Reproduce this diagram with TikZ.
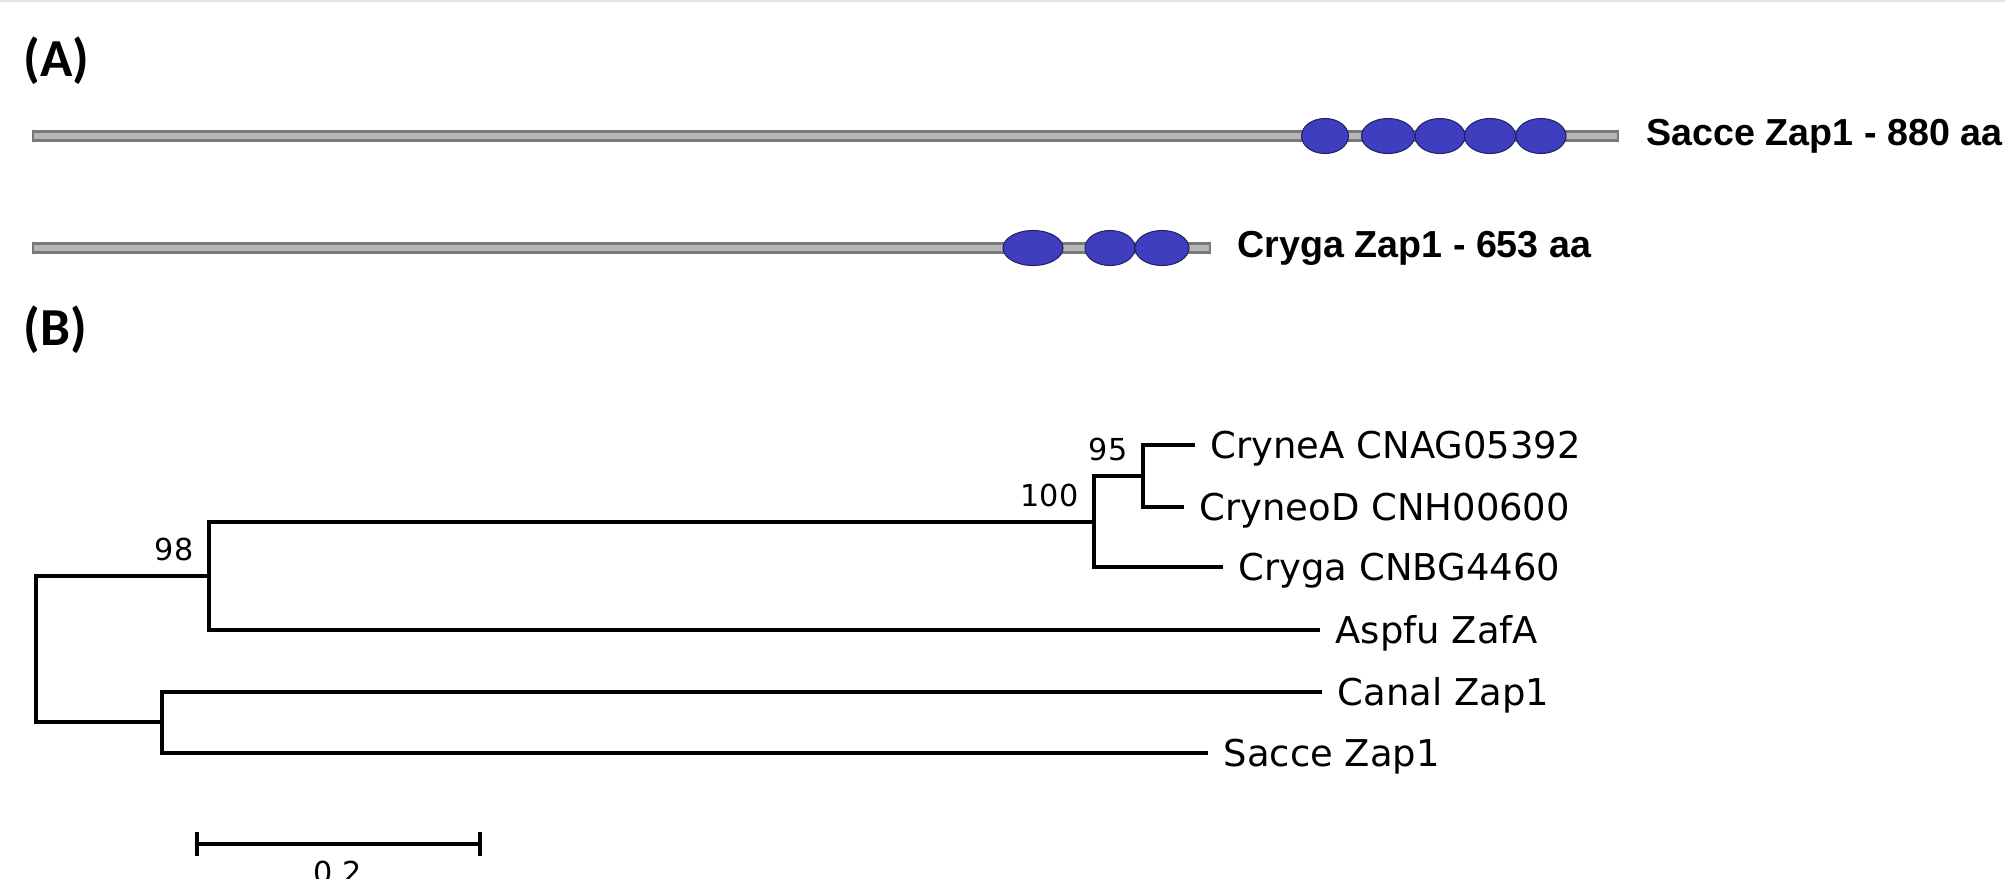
\documentclass[tikz,border=0pt]{standalone}
\usepackage{fontspec}
\setmainfont{DejaVu Sans}
\newfontfamily\protfont{Liberation Sans}
\newfontfamily\panelfont{Carlito}
\usetikzlibrary{positioning,shapes.geometric}
\definecolor{zincblue}{RGB}{62,62,190}
\definecolor{barfill}{RGB}{182,182,182}
\definecolor{bargray}{RGB}{120,120,120}
\definecolor{rulegray}{RGB}{225,229,235}

\begin{document}
\begin{tikzpicture}[x=0.01cm, y=-0.01cm,
      panel/.style={anchor=west, inner sep=0pt, font=\panelfont\bfseries\fontsize{15.2}{18}\selectfont},
      bar/.style={draw=bargray, fill=barfill, line width=0.6pt},
      zinc/.style={ellipse, draw=zincblue!55!black, fill=zincblue, line width=0.3pt, inner sep=0pt, minimum height=0.35cm},
      prot/.style={inner sep=0pt, font=\protfont\bfseries\fontsize{10.7}{13}\selectfont},
      branch/.style={line width=1pt},
      taxon/.style={anchor=base west, inner sep=0pt, xshift=0.15cm, yshift=-3.8pt, font=\fontsize{10.5}{12}\selectfont},
      boot/.style={anchor=south east, inner sep=0pt, xshift=-0.15cm, yshift=0.14cm, font=\fontsize{8.6}{10}\selectfont}
      ]
      \useasboundingbox (0,0) rectangle (2005,878);
      \fill[rulegray] (0,0) rectangle (2005,2);

      % (A) domain structure
      \node[panel] (pA) at (23,61) {(A)};
      \coordinate (sacE) at (1618,136);
      \coordinate (cryE) at (1210,248);
      \draw[bar] (33,131.5) rectangle (sacE |- 0,140.5);
      \draw[bar] (33,243.5) rectangle (cryE |- 0,252.5);
      \foreach \x/\w [count=\i] in {1325/47,1388/53,1440/50,1490/51,1541/50}
        \node[zinc, minimum width=\w*0.01cm] (sz\i) at (\x,136) {};
      \foreach \x/\w [count=\i] in {1033/60,1110/50,1162/54}
        \node[zinc, minimum width=\w*0.01cm] (cz\i) at (\x,248) {};
      \node[prot, right=0.28cm of sacE] (sacL) {Sacce Zap1 - 880 aa};
      \node[prot, right=0.27cm of cryE] (cryL) {Cryga Zap1 - 653 aa};

      % (B) tree
      \node[panel] (pB) at (23,330) {(B)};
      \coordinate (root) at (36,649);
      \coordinate (n98) at (209,576);
      \coordinate (ncs) at (162,722);
      \coordinate (n100) at (1094,522);
      \coordinate (n95) at (1143,476);
      \coordinate (tA) at (1195,445);
      \coordinate (tD) at (1184,507);
      \coordinate (tG) at (1223,567);
      \coordinate (tF) at (1320,630);
      \coordinate (tC) at (1322,692);
      \coordinate (tS) at (1208,753);
      \foreach \p/\c in {root/n98,root/ncs,n98/n100,n98/tF,n100/n95,n100/tG,n95/tA,n95/tD,ncs/tC,ncs/tS}
        \draw[branch] (\p) |- (\c);
      \node[taxon] (lA) at (tA) {CryneA CNAG05392};
      \node[taxon] (lD) at (tD) {CryneoD CNH00600};
      \node[taxon] (lG) at (tG) {Cryga CNBG4460};
      \node[taxon] (lF) at (tF) {Aspfu ZafA};
      \node[taxon] (lC) at (tC) {Canal Zap1};
      \node[taxon] (lS) at (tS) {Sacce Zap1};
      \node[boot] (b98) at (n98) {98};
      \node[boot] (b100) at (n100) {100};
      \node[boot] (b95) at (n95) {95};

      % scale
      \coordinate (sL) at (197,844);
      \coordinate (sR) at (480,844);
      \coordinate (sM) at (338,844);
      \draw[branch] (sL) -- (sR);
      \draw[branch] (sL) ++(0,-12) -- ++(0,24);
      \draw[branch] (sR) ++(0,-12) -- ++(0,24);
      \node[below=0.16cm of sM, inner sep=0pt, font=\fontsize{8.6}{10}\selectfont] (sc) {0.2};
    \end{tikzpicture}
\end{document}
